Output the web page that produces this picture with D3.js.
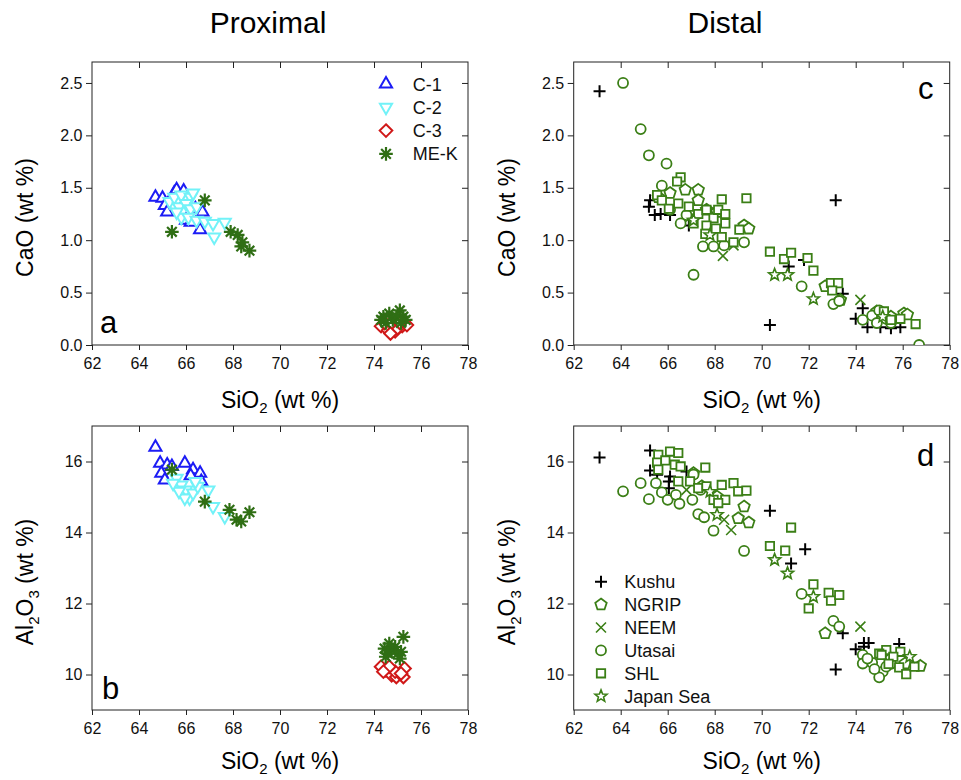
<!DOCTYPE html>
<html><head><meta charset="utf-8">
<script src="https://cdn.jsdelivr.net/npm/d3@7"></script>
<style>body{margin:0;background:#fff}svg{display:block}</style>
</head><body>
<svg id="chart" width="961" height="780"></svg>
<script>
// ---------- tick labels / categories ----------
const xTicks = [62, 64, 66, 68, 70, 72, 74, 76, 78];
const caoTicks = [0, 0.5, 1.0, 1.5, 2.0, 2.5];
const alTicks = [10, 12, 14, 16];
const proxSeries = ["C-1", "C-2", "C-3", "ME-K"];
const distSeries = ["Kushu", "NGRIP", "NEEM", "Utasai", "SHL", "Japan Sea"];

// ---------- Proximal, CaO vs SiO2 ----------
const c1_CaO = [[64.7,1.41],[65.0,1.40],[65.1,1.33],[65.2,1.27],[65.5,1.45],[65.6,1.48],[65.9,1.47],[66.0,1.38],[66.0,1.19],[66.2,1.17],[66.4,1.30],[66.7,1.27],[66.6,1.10]];
const c2_CaO = [[65.3,1.37],[65.5,1.41],[65.8,1.43],[66.2,1.41],[66.3,1.45],[65.7,1.32],[66.0,1.35],[66.2,1.30],[65.8,1.22],[66.1,1.22],[66.45,1.19],[66.8,1.18],[67.15,1.16],[67.65,1.17],[67.2,1.03],[66.45,1.32],[65.6,1.27]];
const c3_CaO = [[74.3,0.18],[74.6,0.14],[74.9,0.13],[75.2,0.18],[75.4,0.19],[75.0,0.16],[74.45,0.21],[74.75,0.21],[75.1,0.21],[74.7,0.11]];
const mek_CaO = [[66.8,1.38],[65.4,1.08],[67.9,1.08],[68.2,1.05],[68.35,0.94],[68.7,0.90],[68.4,0.98],[74.4,0.27],[74.65,0.30],[75.1,0.33],[75.25,0.27],[74.8,0.24],[74.5,0.21],[75.35,0.24],[74.95,0.27],[74.3,0.24],[75.15,0.21]];

// ---------- Proximal, Al2O3 vs SiO2 ----------
const c1_Al = [[64.7,16.4],[64.9,15.95],[65.2,15.9],[64.95,15.67],[65.1,15.48],[65.95,15.95],[66.3,15.77],[66.6,15.67],[66.65,15.44],[65.4,15.86],[66.2,15.6]];
const c2_Al = [[65.6,15.53],[65.8,15.34],[66.0,15.2],[66.15,14.97],[65.95,14.97],[66.3,15.11],[66.5,15.3],[66.95,15.2],[67.15,14.73],[67.65,14.45],[65.7,15.16],[65.45,15.39],[66.4,15.44]];
const c3_Al = [[74.3,10.22],[74.5,10.12],[74.75,9.98],[74.95,9.93],[75.25,9.93],[75.3,10.17],[74.9,10.08],[74.65,10.22],[75.15,10.03],[74.4,10.08]];
const mek_Al = [[65.4,15.77],[66.8,14.87],[67.85,14.64],[68.15,14.36],[68.35,14.31],[68.7,14.57],[75.25,11.06],[74.75,10.69],[74.5,10.5],[75.0,10.59],[74.45,10.73],[74.9,10.78],[75.15,10.64],[74.65,10.87],[74.6,10.59],[75.1,10.45]];

// ---------- Distal, CaO vs SiO2 ----------
const kushu_CaO = [[63.1,2.42],[65.25,1.38],[65.2,1.32],[65.45,1.24],[65.7,1.25],[66.1,1.24],[66.9,1.14],[73.15,1.38],[71.15,0.75],[71.8,0.81],[73.45,0.49],[70.35,0.19],[74.3,0.35],[74.0,0.25],[74.5,0.17],[75.05,0.17],[75.5,0.16],[75.9,0.17]];
const ngrip_CaO = [[65.6,1.41],[66.1,1.45],[66.75,1.48],[67.3,1.48],[67.3,1.38],[67.65,1.29],[68.1,1.27],[69.25,1.14],[69.45,1.11],[72.7,0.56],[73.35,0.43],[74.9,0.32],[75.5,0.27],[76.05,0.30],[76.2,0.29]];
const neem_CaO = [[66.95,1.22],[68.35,0.85],[68.8,0.95],[74.2,0.43]];
const utasai_CaO = [[64.1,2.50],[64.85,2.06],[65.2,1.81],[65.95,1.73],[65.75,1.52],[66.1,1.29],[66.8,1.24],[66.55,1.16],[67.1,0.67],[67.5,0.94],[67.95,0.94],[68.4,0.95],[69.25,0.98],[71.7,0.56],[73.05,0.39],[73.3,0.42],[74.3,0.24],[74.7,0.28],[75.0,0.33],[74.9,0.21],[75.3,0.25],[75.5,0.21],[76.7,0.0]];
const shl_CaO = [[66.55,1.60],[66.4,1.56],[65.55,1.43],[65.75,1.38],[66.05,1.30],[66.45,1.35],[66.9,1.32],[67.3,1.25],[67.65,1.29],[67.95,1.21],[68.3,1.39],[68.15,1.29],[68.45,1.25],[68.45,1.16],[67.65,1.14],[68.05,1.11],[67.6,1.06],[68.3,1.03],[68.8,0.98],[69.35,1.40],[69.05,1.10],[67.1,1.16],[70.35,0.89],[70.95,0.82],[71.25,0.88],[71.95,0.83],[72.2,0.71],[72.95,0.59],[73.25,0.59],[73.0,0.52],[75.2,0.32],[75.5,0.24],[75.9,0.25],[76.55,0.20]];
const japan_CaO = [[67.1,1.19],[67.8,1.05],[70.55,0.67],[71.1,0.67],[72.2,0.44],[75.15,0.27]];

// ---------- Distal, Al2O3 vs SiO2 ----------
const kushu_Al = [[63.1,16.11],[65.25,16.31],[65.25,15.75],[65.55,15.63],[66.05,15.44],[66.1,15.58],[66.05,15.25],[66.8,15.72],[70.35,14.61],[71.85,13.53],[71.25,13.13],[73.45,11.16],[74.0,10.71],[74.35,10.89],[74.55,10.89],[74.35,10.78],[75.85,10.86],[73.15,10.14]];
const ngrip_Al = [[67.1,15.67],[67.45,15.3],[68.1,15.01],[69.25,14.73],[69.0,14.40],[69.45,14.28],[72.7,11.16],[75.5,10.45],[76.1,10.31],[76.75,10.24]];
const neem_Al = [[66.8,15.2],[68.4,14.36],[68.7,14.07],[74.2,11.35]];
const utasai_Al = [[64.1,15.16],[64.85,15.39],[65.2,14.94],[65.5,15.39],[65.75,15.13],[66.0,14.92],[66.35,15.06],[66.5,14.81],[67.05,14.92],[67.3,14.52],[67.55,14.43],[67.95,14.05],[69.25,13.48],[71.7,12.27],[73.05,11.51],[73.3,11.35],[74.3,10.55],[74.3,10.31],[74.7,10.33],[75.15,10.08],[75.0,9.92],[75.3,10.22],[67.1,15.63],[67.4,15.2],[74.5,10.45],[75.5,10.3],[74.8,10.15]];
const shl_Al = [[65.6,16.19],[66.1,16.28],[66.45,16.24],[65.55,15.97],[65.9,16.03],[66.3,15.91],[66.55,15.86],[65.6,15.77],[67.6,15.83],[66.45,15.44],[66.95,15.44],[67.3,15.25],[67.65,15.3],[68.3,15.34],[68.8,15.39],[69.0,15.16],[69.35,15.18],[67.95,14.92],[68.45,14.92],[68.15,14.83],[71.25,14.14],[70.35,13.62],[71.0,13.49],[72.2,12.54],[72.0,11.86],[72.85,12.30],[72.95,12.08],[73.3,12.24],[75.3,10.69],[75.9,10.64],[75.85,10.2],[76.15,10.01],[76.5,10.22],[75.0,10.59],[75.1,10.55],[75.6,10.5],[75.4,10.3]];
const japan_Al = [[67.8,15.15],[68.1,14.5],[70.55,13.23],[71.1,12.85],[72.2,12.19],[76.3,10.5]];

// ---------- styling ----------
const FONT = '"Liberation Sans", Arial, Helvetica, sans-serif';
const BLUE = "#1c1cf5", CYAN = "#72f2f8", RED = "#d01818", DKGREEN = "#2f6e14", GREEN = "#3b7f16";

function shape(type) {
  const poly = (n, r, rot) => { const pts = []; for (let i = 0; i < n; i++) { const a = rot + i * 2 * Math.PI / n; pts.push([r * Math.cos(a), r * Math.sin(a)]); } return "M" + pts.map(q => q[0].toFixed(2) + "," + q[1].toFixed(2)).join("L") + "Z"; };
  switch (type) {
    case "triUp": return poly(3, 7, -Math.PI / 2);
    case "triDown": return poly(3, 7, Math.PI / 2);
    case "diamond": return poly(4, 6.3, -Math.PI / 2);
    case "aster": { let s = ""; for (let i = 0; i < 4; i++) { const a = i * Math.PI / 4, r = 6.8; s += `M${(-r*Math.cos(a)).toFixed(2)},${(-r*Math.sin(a)).toFixed(2)}L${(r*Math.cos(a)).toFixed(2)},${(r*Math.sin(a)).toFixed(2)}`; } return s; }
    case "plus": return "M-6,0H6M0,-6V6";
    case "times": return "M-5,-5L5,5M5,-5L-5,5";
    case "pent": return poly(5, 6, -Math.PI / 2);
    case "circle": return "M5,0A5,5 0 1,1 -5,0A5,5 0 1,1 5,0Z";
    case "square": return "M-4.2,-4.2H4.2V4.2H-4.2Z";
    case "star": { const pts = []; for (let i = 0; i < 10; i++) { const r = i % 2 ? 2.7 : 6.3, a = -Math.PI / 2 + i * Math.PI / 5; pts.push([r * Math.cos(a), r * Math.sin(a)]); } return "M" + pts.map(q => q[0].toFixed(2) + "," + q[1].toFixed(2)).join("L") + "Z"; }
  }
}

const proxStyle = {
  "C-1": { shape: "triUp", color: BLUE, sw: 2 },
  "C-2": { shape: "triDown", color: CYAN, sw: 2 },
  "C-3": { shape: "diamond", color: RED, sw: 2 },
  "ME-K": { shape: "aster", color: DKGREEN, sw: 2.2 }
};
const distStyle = {
  "Kushu": { shape: "plus", color: "#000", sw: 2 },
  "NGRIP": { shape: "pent", color: GREEN, sw: 1.8 },
  "NEEM": { shape: "times", color: GREEN, sw: 1.6 },
  "Utasai": { shape: "circle", color: GREEN, sw: 1.8 },
  "SHL": { shape: "square", color: GREEN, sw: 1.8 },
  "Japan Sea": { shape: "star", color: GREEN, sw: 1.6 }
};
const isLine = s => s === "plus" || s === "times" || s === "aster";

const svg = d3.select("#chart").style("font-family", FONT);
svg.append("rect").attr("width", 961).attr("height", 780).attr("fill", "#fff");

// column titles
svg.append("text").attr("x", 268).attr("y", 33).attr("text-anchor", "middle").attr("font-size", 30).text("Proximal");
svg.append("text").attr("x", 725).attr("y", 33).attr("text-anchor", "middle").attr("font-size", 30).text("Distal");

const panels = [
  { key: "a", x0: 92, x1: 468, yT: 62, yB: 345, dom: [0, 2.7], ticks: caoTicks, fmt: d3.format(".1f"), ytitle: "CaO", lx: 100, ly: 333, tdy: 63,
    series: [["C-1", c1_CaO], ["C-2", c2_CaO], ["C-3", c3_CaO], ["ME-K", mek_CaO]], style: proxStyle },
  { key: "b", x0: 92, x1: 468, yT: 426, yB: 710, dom: [9, 17], ticks: alTicks, fmt: d3.format("d"), ytitle: "Al", lx: 102, ly: 699, tdy: 59,
    series: [["C-1", c1_Al], ["C-2", c2_Al], ["C-3", c3_Al], ["ME-K", mek_Al]], style: proxStyle },
  { key: "c", x0: 573.7, x1: 949.7, yT: 62, yB: 345, dom: [0, 2.7], ticks: caoTicks, fmt: d3.format(".1f"), ytitle: "CaO", lx: 918, ly: 99, tdy: 63,
    series: [["Kushu", kushu_CaO], ["NGRIP", ngrip_CaO], ["NEEM", neem_CaO], ["Utasai", utasai_CaO], ["SHL", shl_CaO], ["Japan Sea", japan_CaO]], style: distStyle },
  { key: "d", x0: 573.7, x1: 949.7, yT: 426, yB: 710, dom: [9, 17], ticks: alTicks, fmt: d3.format("d"), ytitle: "Al", lx: 917, ly: 466, tdy: 59,
    series: [["Kushu", kushu_Al], ["NGRIP", ngrip_Al], ["NEEM", neem_Al], ["Utasai", utasai_Al], ["SHL", shl_Al], ["Japan Sea", japan_Al]], style: distStyle }
];

panels.forEach(p => {
  const x = d3.scaleLinear().domain([62, 78]).range([p.x0, p.x1]);
  const y = d3.scaleLinear().domain(p.dom).range([p.yB, p.yT]);
  const g = svg.append("g");
  const clipId = "clip-" + p.key;
  svg.append("defs").append("clipPath").attr("id", clipId).append("rect")
    .attr("x", p.x0).attr("y", p.yT).attr("width", p.x1 - p.x0).attr("height", p.yB - p.yT);

  const styleAxis = sel => { sel.select(".domain").remove(); sel.selectAll("line").attr("stroke", "#222"); sel.selectAll("text").attr("font-size", 16).attr("fill", "#111").attr("font-family", FONT); };
  g.append("g").attr("transform", `translate(0,${p.yB})`).call(d3.axisBottom(x).tickValues(xTicks).tickFormat(d3.format("d")).tickSize(5).tickPadding(7.5)).call(styleAxis);
  g.append("g").attr("transform", `translate(0,${p.yT})`).call(d3.axisTop(x).tickValues(xTicks.slice(1, -1)).tickFormat("").tickSize(-6)).call(styleAxis);
  g.append("g").attr("transform", `translate(${p.x0},0)`).call(d3.axisLeft(y).tickValues(p.ticks).tickFormat(p.fmt).tickSize(6).tickPadding(3.5)).call(styleAxis);
  g.append("g").attr("transform", `translate(${p.x1},0)`).call(d3.axisRight(y).tickValues(p.ticks).tickFormat("").tickSize(-6)).call(styleAxis);
  g.append("rect").attr("x", p.x0).attr("y", p.yT).attr("width", p.x1 - p.x0).attr("height", p.yB - p.yT)
    .attr("fill", "none").attr("stroke", "#222").attr("stroke-width", 1);

  const pg = g.append("g").attr("clip-path", `url(#${clipId})`);
  p.series.forEach(([name, data]) => {
    const st = p.style[name];
    pg.append("g").selectAll("path").data(data).join("path")
      .attr("transform", d => `translate(${x(d[0])},${y(d[1])})`)
      .attr("d", shape(st.shape))
      .attr("fill", isLine(st.shape) ? "none" : "#fff")
      .attr("stroke", st.color).attr("stroke-width", st.sw);
  });

  g.append("text").attr("x", p.lx).attr("y", p.ly).attr("font-size", 31).attr("fill", "#000").text(p.key);

  const xc = (p.x0 + p.x1) / 2;
  const xt = g.append("text").attr("x", xc).attr("y", p.yB + p.tdy).attr("text-anchor", "middle").attr("font-size", 23);
  xt.append("tspan").text("SiO");
  xt.append("tspan").attr("font-size", 15).attr("dy", 5).text("2");
  xt.append("tspan").attr("dy", -5).text(" (wt %)");

  const yc = (p.yT + p.yB) / 2 + 14;
  const yt = g.append("text").attr("transform", `translate(${p.x0 - 59},${yc}) rotate(-90)`).attr("text-anchor", "middle").attr("font-size", 23);
  if (p.ytitle === "CaO") {
    yt.text("CaO (wt %)");
  } else {
    yt.append("tspan").text("Al");
    yt.append("tspan").attr("font-size", 15).attr("dy", 6).text("2");
    yt.append("tspan").attr("dy", -6).text("O");
    yt.append("tspan").attr("font-size", 15).attr("dy", 6).text("3");
    yt.append("tspan").attr("dy", -6).text(" (wt %)");
  }
});

function legend(names, styles, mx, tx, y0, dy) {
  const lg = svg.append("g");
  names.forEach((n, i) => {
    const st = styles[n];
    const yy = y0 + i * dy;
    lg.append("path").attr("transform", `translate(${mx},${yy})`).attr("d", shape(st.shape))
      .attr("fill", isLine(st.shape) ? "none" : "#fff")
      .attr("stroke", st.color).attr("stroke-width", st.sw);
    lg.append("text").attr("x", tx).attr("y", yy + 6.5).attr("font-size", 18).attr("fill", "#111").text(n);
  });
}
legend(proxSeries, proxStyle, 386, 412.7, 84, 23.3);
legend(distSeries, distStyle, 601, 624.3, 581.7, 22.9);
</script>
</body></html>
